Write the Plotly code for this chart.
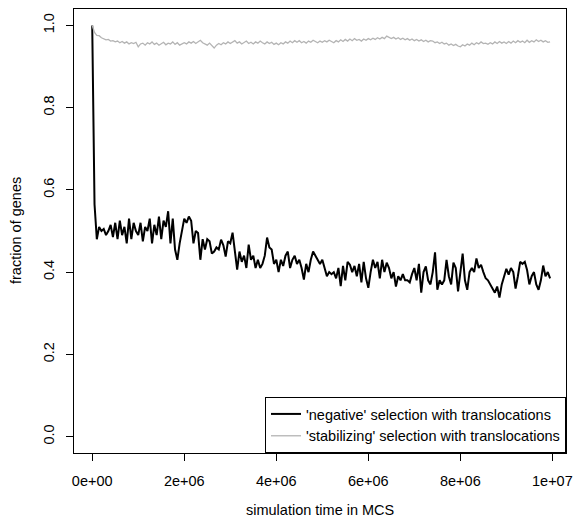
import plotly.graph_objects as go

# sampling interval of the simulation output (MCS)
sample_interval = 50000

# fraction of genes, 'negative' selection with translocations (one value per sample)
negative = [
    1.000, 0.565, 0.480, 0.510, 0.500, 0.505, 0.490, 0.500, 0.515, 0.485,
    0.520, 0.480, 0.525, 0.490, 0.510, 0.470, 0.530, 0.480, 0.520, 0.500,
    0.490, 0.520, 0.475, 0.510, 0.500, 0.530, 0.470, 0.515, 0.490, 0.535,
    0.480, 0.525, 0.510, 0.548, 0.470, 0.530, 0.455, 0.430, 0.470, 0.500,
    0.530, 0.520, 0.535, 0.525, 0.470, 0.500, 0.495, 0.430, 0.480, 0.455,
    0.480, 0.475, 0.445, 0.450, 0.460, 0.455, 0.479, 0.465, 0.438, 0.475,
    0.470, 0.496, 0.450, 0.406, 0.450, 0.425, 0.440, 0.410, 0.467, 0.430,
    0.440, 0.410, 0.430, 0.410, 0.420, 0.440, 0.484, 0.460, 0.455, 0.420,
    0.430, 0.400, 0.430, 0.415, 0.440, 0.450, 0.410, 0.430, 0.440, 0.420,
    0.430, 0.410, 0.382, 0.420, 0.400, 0.430, 0.450, 0.440, 0.430, 0.420,
    0.430, 0.410, 0.390, 0.400, 0.395, 0.400, 0.385, 0.410, 0.366, 0.415,
    0.380, 0.425, 0.418, 0.400, 0.415, 0.390, 0.420, 0.375, 0.425, 0.385,
    0.362, 0.400, 0.430, 0.410, 0.425, 0.385, 0.430, 0.400, 0.423, 0.410,
    0.385, 0.400, 0.365, 0.390, 0.380, 0.395, 0.380, 0.380, 0.375, 0.395,
    0.410, 0.380, 0.420, 0.350, 0.400, 0.414, 0.380, 0.370, 0.400, 0.448,
    0.357, 0.380, 0.370, 0.380, 0.430, 0.390, 0.370, 0.423, 0.410, 0.353,
    0.400, 0.445, 0.380, 0.357, 0.400, 0.410, 0.400, 0.433, 0.410, 0.418,
    0.400, 0.385, 0.380, 0.370, 0.360, 0.350, 0.365, 0.338, 0.370, 0.390,
    0.408, 0.394, 0.410, 0.400, 0.360, 0.390, 0.425, 0.420, 0.425, 0.405,
    0.370, 0.390, 0.400, 0.370, 0.357, 0.380, 0.416, 0.390, 0.400, 0.385,
]

# fraction of genes, 'stabilizing' selection with translocations
stabilizing = [
    1.000, 0.983, 0.976, 0.975, 0.970, 0.968, 0.965, 0.966, 0.962, 0.963,
    0.960, 0.962, 0.958, 0.961, 0.957, 0.960, 0.955, 0.958, 0.956, 0.959,
    0.948, 0.955, 0.957, 0.952, 0.958, 0.955, 0.960, 0.954, 0.957, 0.952,
    0.956, 0.959, 0.953, 0.957, 0.955, 0.960, 0.954, 0.958, 0.952, 0.956,
    0.958, 0.955, 0.960, 0.957, 0.961, 0.956, 0.959, 0.964, 0.958, 0.955,
    0.952, 0.957, 0.950, 0.945, 0.952, 0.956, 0.953, 0.958, 0.955, 0.960,
    0.956, 0.959, 0.963, 0.957, 0.960, 0.955, 0.958, 0.962, 0.956, 0.959,
    0.955, 0.960, 0.957, 0.962, 0.958, 0.955, 0.960, 0.956, 0.959, 0.954,
    0.957, 0.953, 0.958, 0.955, 0.960, 0.957, 0.962, 0.958, 0.963, 0.959,
    0.963, 0.958, 0.961, 0.957, 0.962, 0.959, 0.964, 0.960, 0.958, 0.962,
    0.959, 0.963, 0.960, 0.964, 0.961, 0.958, 0.963, 0.960, 0.965, 0.961,
    0.966, 0.962, 0.967, 0.963, 0.968, 0.964, 0.966, 0.962, 0.967, 0.964,
    0.968, 0.965, 0.969, 0.966, 0.970, 0.967, 0.971, 0.968, 0.974, 0.970,
    0.968, 0.971, 0.967, 0.970, 0.966, 0.969, 0.965, 0.968, 0.964, 0.967,
    0.963, 0.966, 0.962, 0.965, 0.961, 0.964, 0.960, 0.963, 0.962, 0.958,
    0.960, 0.956, 0.959, 0.955, 0.957, 0.952, 0.955, 0.951, 0.954, 0.950,
    0.948, 0.953, 0.950, 0.955, 0.952, 0.957, 0.953, 0.958, 0.955, 0.960,
    0.956, 0.957, 0.954, 0.958, 0.955, 0.960, 0.956, 0.961, 0.957, 0.960,
    0.956, 0.961, 0.957, 0.962, 0.958, 0.963, 0.959, 0.962, 0.958, 0.964,
    0.959, 0.963, 0.960, 0.965, 0.961, 0.964, 0.960, 0.963, 0.959, 0.960,
]

times = [i * sample_interval for i in range(len(negative))]

x_tick_values = [0, 2e6, 4e6, 6e6, 8e6, 1e7]
x_tick_labels = ["0e+00", "2e+06", "4e+06", "6e+06", "8e+06", "1e+07"]
y_tick_values = [0.0, 0.2, 0.4, 0.6, 0.8, 1.0]
y_tick_labels = ["0.0", "0.2", "0.4", "0.6", "0.8", "1.0"]

FONT = "Liberation Sans, Arial, Helvetica, sans-serif"
FS = 14.5

fig = go.Figure()
fig.add_trace(go.Scatter(
    x=times, y=negative, mode="lines",
    name="'negative' selection with translocations",
    line=dict(color="black", width=2),
))
fig.add_trace(go.Scatter(
    x=times, y=stabilizing, mode="lines",
    name="'stabilizing' selection with translocations",
    line=dict(color="#b4b4b4", width=1.3),
))

axis_common = dict(
    showgrid=False, zeroline=False, showline=True, mirror=True,
    linecolor="black", linewidth=1, ticks="outside", ticklen=7,
    tickwidth=1, tickcolor="black",
    tickfont=dict(family=FONT, size=FS, color="black"),
)

fig.update_xaxes(
    range=[-0.396e6, 10.296e6], tickvals=x_tick_values, ticktext=x_tick_labels,
    ticklabelstandoff=8, **axis_common,
)
fig.update_yaxes(
    range=[-0.04, 1.04], tickvals=y_tick_values, ticktext=y_tick_labels,
    tickangle=-90, ticklabelstandoff=6, **axis_common,
)

fig.add_annotation(
    text="simulation time in MCS", xref="paper", yref="paper", x=0.5, y=0,
    yshift=-57, showarrow=False, xanchor="center", yanchor="middle",
    font=dict(family=FONT, size=FS, color="black"),
)
fig.add_annotation(
    text="fraction of genes", xref="paper", yref="paper", x=0, y=0.5,
    xshift=-58, showarrow=False, textangle=-90, xanchor="center", yanchor="middle",
    font=dict(family=FONT, size=FS, color="black"),
)

fig.update_layout(
    width=573, height=524,
    margin=dict(l=74, r=7, t=9, b=71, autoexpand=False),
    paper_bgcolor="white", plot_bgcolor="white",
    font=dict(family=FONT, size=FS, color="black"),
    legend=dict(
        x=1, y=0, xanchor="right", yanchor="bottom",
        bgcolor="white", bordercolor="black", borderwidth=1,
        font=dict(family=FONT, size=FS, color="black"),
        itemwidth=30, tracegroupgap=0,
    ),
    showlegend=True,
)

fig.write_html(
    "out.html",
    config={"displayModeBar": False},
    post_script="document.body.style.margin='0';document.body.style.padding='0';",
)
